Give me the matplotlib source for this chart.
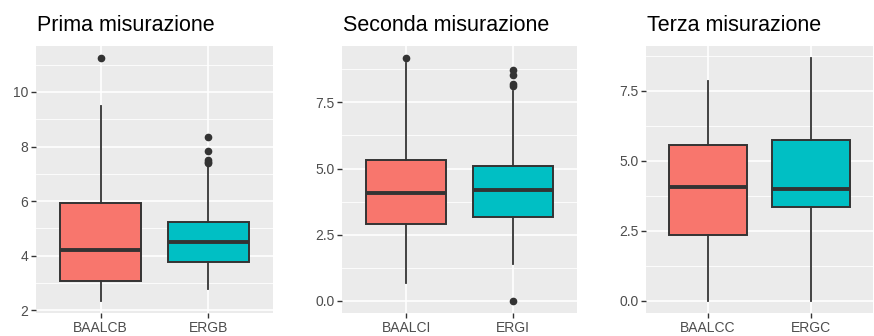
import numpy as np
import matplotlib
matplotlib.use("Agg")
import matplotlib.pyplot as plt
from matplotlib.ticker import MultipleLocator, FormatStrFormatter

plt.rcParams['font.family'] = ['Liberation Sans', 'DejaVu Sans']

# box statistics per measurement (whisker low, Q1, median, Q3, whisker high, outliers)
titles = ["Prima misurazione", "Seconda misurazione", "Terza misurazione"]

prima_labels = ["BAALCB", "ERGB"]
prima_whislo = [2.34, 2.77]
prima_q1 = [3.07, 3.77]
prima_med = [4.22, 4.49]
prima_q3 = [5.93, 5.25]
prima_whishi = [9.47, 7.30]
prima_fliers = [[11.24], [8.35, 7.84, 7.52, 7.45, 7.38]]

seconda_labels = ["BAALCI", "ERGI"]
seconda_whislo = [0.69, 1.39]
seconda_q1 = [2.90, 3.15]
seconda_med = [4.08, 4.20]
seconda_q3 = [5.33, 5.09]
seconda_whishi = [9.00, 7.94]
seconda_fliers = [[9.17], [8.72, 8.55, 8.20, 8.10, 0.0]]

terza_labels = ["BAALCC", "ERGC"]
terza_whislo = [0.0, 0.0]
terza_q1 = [2.35, 3.37]
terza_med = [4.06, 4.00]
terza_q3 = [5.57, 5.73]
terza_whishi = [7.84, 8.67]
terza_fliers = [[], []]

fills = ["#F8766D", "#00BFC4"]
major_steps = [2.0, 2.5, 2.5]
fmts = ["%g", "%.1f", "%.1f"]


def make_stats(labels, whislo, q1, med, q3, whishi, fliers):
    return [dict(label=labels[i], whislo=whislo[i], q1=q1[i], med=med[i],
                 q3=q3[i], whishi=whishi[i], fliers=fliers[i])
            for i in range(len(labels))]


panels = [
    make_stats(prima_labels, prima_whislo, prima_q1, prima_med, prima_q3, prima_whishi, prima_fliers),
    make_stats(seconda_labels, seconda_whislo, seconda_q1, seconda_med, seconda_q3, seconda_whishi, seconda_fliers),
    make_stats(terza_labels, terza_whislo, terza_q1, terza_med, terza_q3, terza_whishi, terza_fliers),
]

W, H = 874, 336
fig = plt.figure(figsize=(W / 100, H / 100), dpi=100)
# axes extents in pixels: left, right
extents = [(36, 273), (342, 577), (646, 873)]
top_px, bottom_px = 46, 313

ink = "#333333"
for k, stats in enumerate(panels):
    x0, x1 = extents[k]
    ax = fig.add_axes([x0 / W, (H - bottom_px) / H, (x1 - x0) / W, (bottom_px - top_px) / H])
    ax.set_facecolor("#EBEBEB")
    for s in ax.spines.values():
        s.set_visible(False)

    res = ax.bxp(stats, positions=[1, 2], widths=0.75, patch_artist=True,
                 showcaps=False, manage_ticks=False,
                 boxprops=dict(edgecolor=ink, linewidth=1.4),
                 whiskerprops=dict(color=ink, linewidth=1.3),
                 medianprops=dict(color=ink, linewidth=2.8, solid_capstyle='butt'),
                 flierprops=dict(marker='o', markerfacecolor=ink, markeredgecolor=ink,
                                 markersize=4.5, linestyle='none'))
    for patch, c in zip(res['boxes'], fills):
        patch.set_facecolor(c)
    for el in res['boxes'] + res['whiskers'] + res['medians'] + res['fliers']:
        el.set_zorder(3)

    # 5% expansion on the data range
    vals = []
    for s in stats:
        vals += [s['whislo'], s['whishi']] + list(s['fliers'])
    lo, hi = min(vals), max(vals)
    pad = 0.05 * (hi - lo)
    ax.set_ylim(lo - pad, hi + pad)
    ax.set_xlim(0.4, 2.6)

    step = major_steps[k]
    ax.yaxis.set_major_locator(MultipleLocator(step))
    ax.yaxis.set_minor_locator(MultipleLocator(step / 2))
    ax.yaxis.set_major_formatter(FormatStrFormatter(fmts[k]))
    ax.set_xticks([1, 2])
    ax.set_xticklabels([s['label'] for s in stats])

    ax.grid(True, which='major', color='white', linewidth=1.2, zorder=0)
    ax.grid(True, which='minor', axis='y', color='white', linewidth=0.6, zorder=0)
    ax.set_axisbelow(True)
    ax.tick_params(which='major', length=3.5, width=1.0, color=ink,
                   labelcolor="#4D4D4D", labelsize=10, pad=2)
    ax.tick_params(which='minor', length=0)

    # panel title, left-aligned with the panel
    fig.text((x0 + 1) / W, (H - 31) / H, titles[k], fontsize=15.5,
             color="black", ha='left', va='baseline')

fig.savefig("out.png", dpi=100)
